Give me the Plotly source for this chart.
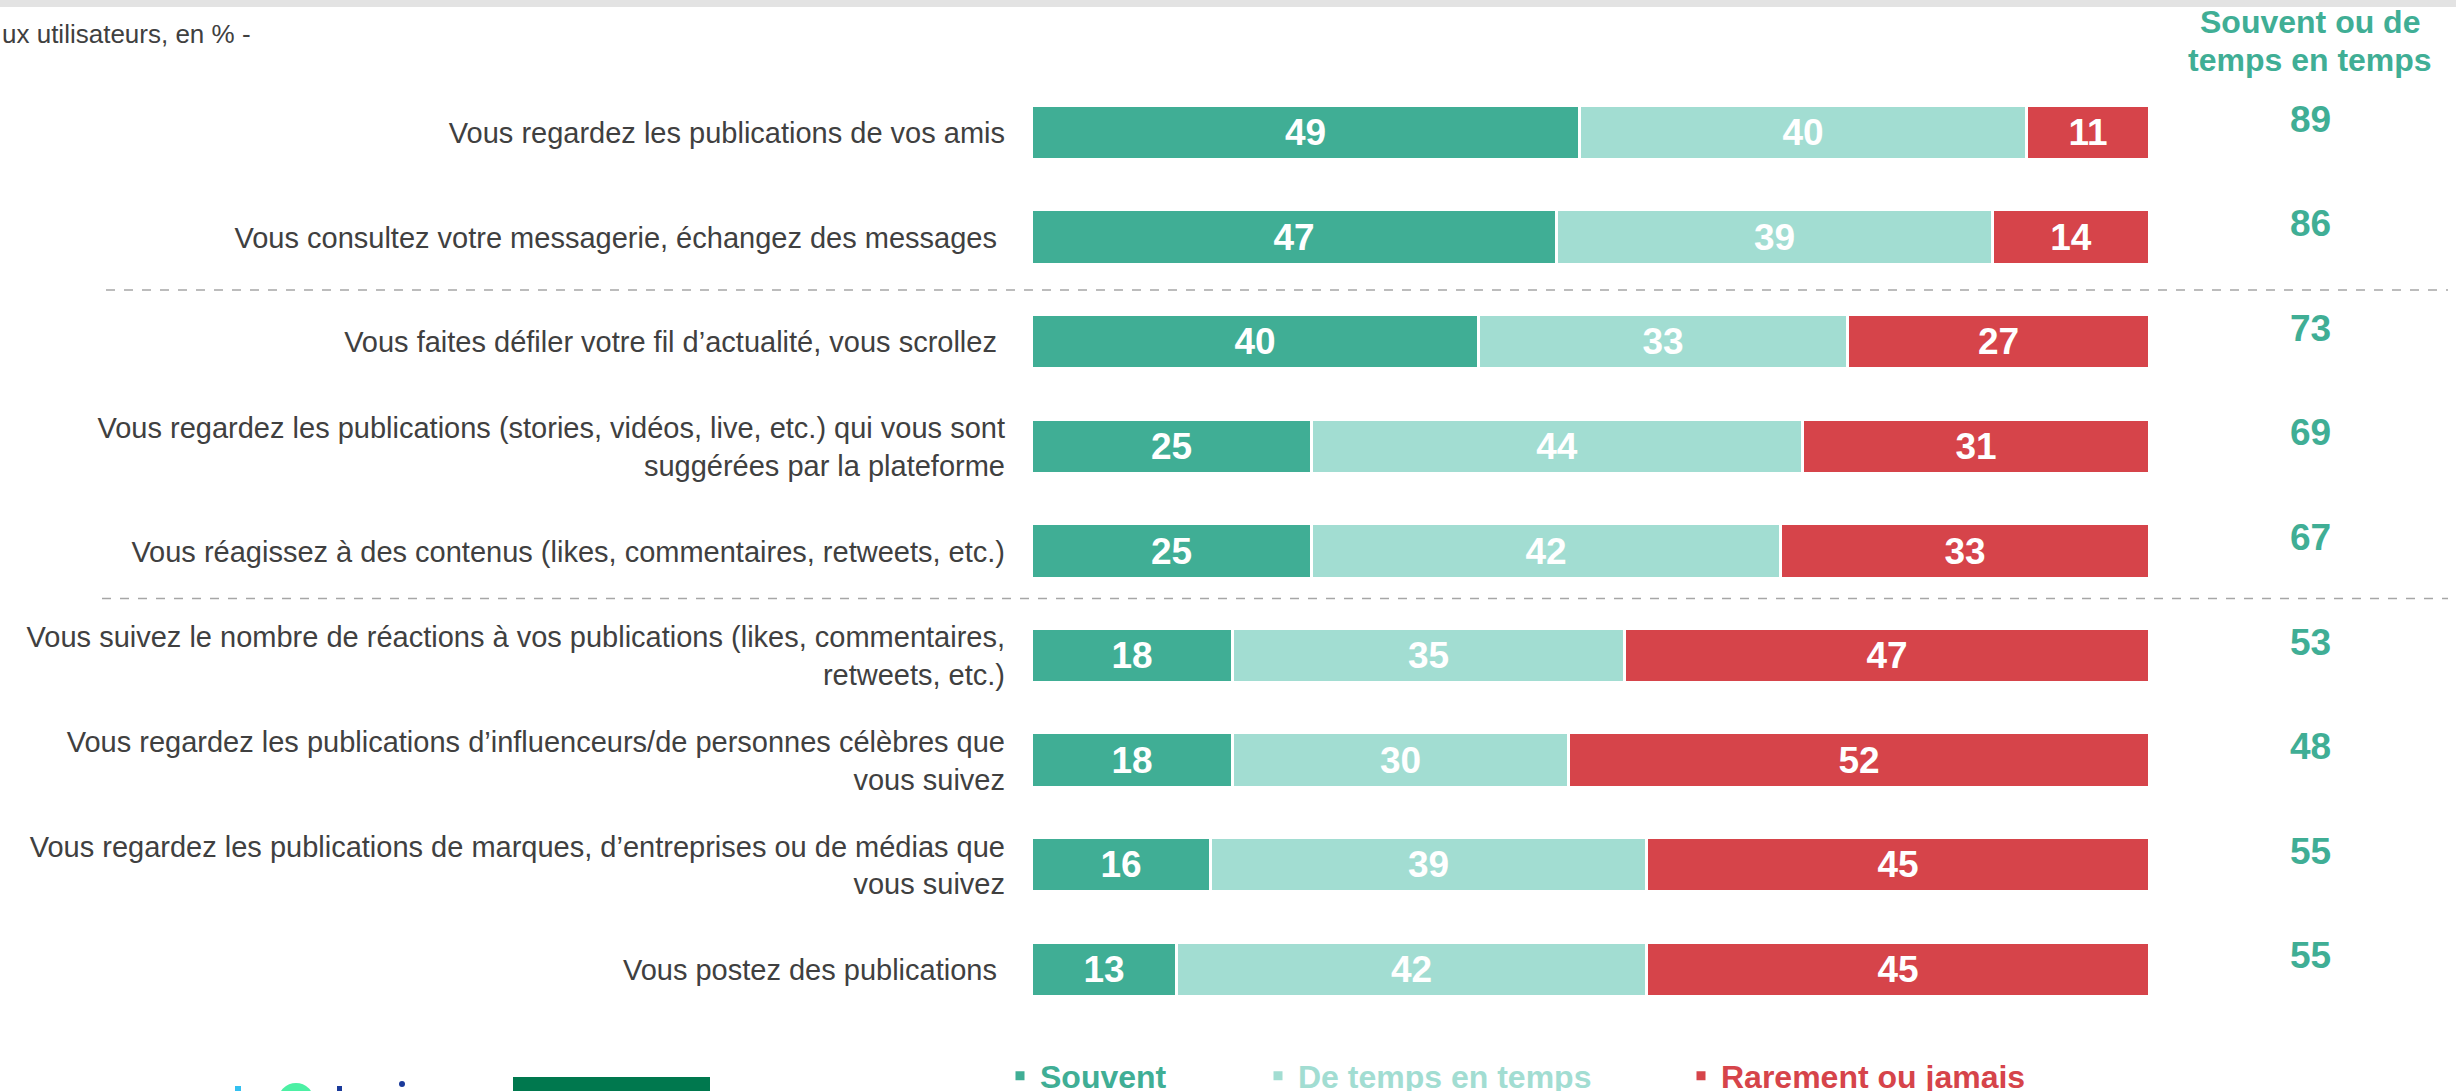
import plotly.graph_objects as go

W, H = 2456, 1091

categories = [
    "Vous regardez les publications de vos amis",
    "Vous consultez votre messagerie, échangez des messages\u00a0",
    "Vous faites défiler votre fil d’actualité, vous scrollez\u00a0",
    "Vous regardez les publications (stories, vidéos, live, etc.) qui vous sont<br>suggérées par la plateforme",
    "Vous réagissez à des contenus (likes, commentaires, retweets, etc.)",
    "Vous suivez le nombre de réactions à vos publications (likes, commentaires,<br>retweets, etc.)",
    "Vous regardez les publications d’influenceurs/de personnes célèbres que<br>vous suivez",
    "Vous regardez les publications de marques, d’entreprises ou de médias que<br>vous suivez",
    "Vous postez des publications\u00a0",
]
souvent = [49, 47, 40, 25, 25, 18, 18, 16, 13]
de_temps = [40, 39, 33, 44, 42, 35, 30, 39, 42]
rarement = [11, 14, 27, 31, 33, 47, 52, 45, 45]
totals = [89, 86, 73, 69, 67, 53, 48, 55, 55]
series_names = ["Souvent", "De temps en temps", "Rarement ou jamais"]
header_lines = ["Souvent ou de", "temps en temps"]
subtitle_text = "ux utilisateurs, en % -"

colors = ["#40ae95", "#a2ddd2", "#d6444a"]
FONT = "Liberation Sans, Arial, sans-serif"

def px_x(x):
    return x / W

def px_y(y):
    return 1 - y / H

positions = list(range(len(categories)))
row0, step = 133.0, 104.6
y_top = -row0 / step
y_bot = (len(categories) - 1) + (H - (row0 + step * (len(categories) - 1))) / step

fig = go.Figure()
legend_ids = ["legend", "legend2", "legend3"]
for name, vals, col, lg in zip(series_names, [souvent, de_temps, rarement], colors, legend_ids):
    fig.add_trace(go.Bar(
        name=name, y=positions, x=vals, orientation="h",
        marker=dict(color=col, line=dict(color="white", width=3)),
        width=0.52,
        text=[str(v) for v in vals], textposition="inside", insidetextanchor="middle",
        textangle=0, constraintext="none",
        textfont=dict(family=FONT, size=37, color="white", weight="bold"),
        hoverinfo="skip", legend=lg,
    ))

annotations = []
for p, t in zip(positions, totals):
    annotations.append(dict(
        x=px_x(2310), xref="paper", y=p, yref="y", yshift=14,
        text=str(t), showarrow=False, xanchor="center", yanchor="middle",
        font=dict(family=FONT, size=37, color=colors[0], weight="bold"),
    ))
for line, yc in zip(header_lines, [22, 60]):
    annotations.append(dict(
        x=px_x(2310), xref="paper", y=px_y(yc), yref="paper",
        text=line, showarrow=False, xanchor="center", yanchor="middle",
        font=dict(family=FONT, size=32, color=colors[0], weight="bold"),
    ))
annotations.append(dict(
    x=0, xref="paper", y=px_y(34), yref="paper",
    text=subtitle_text, showarrow=False, xanchor="left", yanchor="middle",
    font=dict(family=FONT, size=26, color="#404040"),
))

shapes = [
    dict(type="rect", xref="paper", yref="paper", x0=0, x1=1, y0=px_y(7), y1=1,
         fillcolor="#e3e3e3", line=dict(width=0), layer="below"),
    dict(type="line", xref="paper", yref="y", x0=px_x(106), x1=px_x(2448), y0=1.5, y1=1.5,
         line=dict(color="#a6a6a6", width=1.5, dash="dash")),
    dict(type="line", xref="paper", yref="y", x0=px_x(102), x1=px_x(2448), y0=4.45, y1=4.45,
         line=dict(color="#a6a6a6", width=1.5, dash="dash")),
    # partial logos at the bottom edge
    dict(type="rect", xref="paper", yref="paper", x0=px_x(513), x1=px_x(710), y0=0, y1=px_y(1077),
         fillcolor="#00784e", line=dict(width=0)),
    dict(type="circle", xref="paper", yref="paper", x0=px_x(278), x1=px_x(314), y0=px_y(1119), y1=px_y(1083),
         fillcolor="#4cf0a4", line=dict(width=0)),
    dict(type="rect", xref="paper", yref="paper", x0=px_x(235), x1=px_x(241), y0=0, y1=px_y(1086),
         fillcolor="#33c0f0", line=dict(width=0)),
    dict(type="rect", xref="paper", yref="paper", x0=px_x(337), x1=px_x(342), y0=0, y1=px_y(1086),
         fillcolor="#1a3a9a", line=dict(width=0)),
    dict(type="circle", xref="paper", yref="paper", x0=px_x(399), x1=px_x(405), y0=px_y(1087), y1=px_y(1081),
         fillcolor="#1a3a9a", line=dict(width=0)),
]

legend_common = dict(orientation="h", yanchor="middle", y=px_y(1076), xanchor="left",
                     bgcolor="rgba(0,0,0,0)", borderwidth=0, itemclick=False, itemdoubleclick=False)

fig.update_layout(
    width=W, height=H,
    margin=dict(l=0, r=0, t=0, b=0, autoexpand=False),
    paper_bgcolor="white", plot_bgcolor="white",
    barmode="stack", bargap=0,
    showlegend=True,
    xaxis=dict(domain=[px_x(1032), px_x(2150)], range=[0, 100], visible=False, fixedrange=True),
    yaxis=dict(range=[y_bot, y_top], tickvals=positions, ticktext=categories,
               showgrid=False, zeroline=False, showline=False, ticks="",
               ticklabelstandoff=26, fixedrange=True,
               tickfont=dict(family=FONT, size=29, color="#404040")),
    legend=dict(x=px_x(1000), font=dict(family=FONT, size=32, color=colors[0], weight="bold"), **legend_common),
    legend2=dict(x=px_x(1258), font=dict(family=FONT, size=32, color=colors[1], weight="bold"), **legend_common),
    legend3=dict(x=px_x(1681), font=dict(family=FONT, size=32, color=colors[2], weight="bold"), **legend_common),
    annotations=annotations,
    shapes=shapes,
)

fig.write_html("out.html", config={"displayModeBar": False},
               post_script="document.body.style.margin='0';document.body.style.overflow='hidden';")
